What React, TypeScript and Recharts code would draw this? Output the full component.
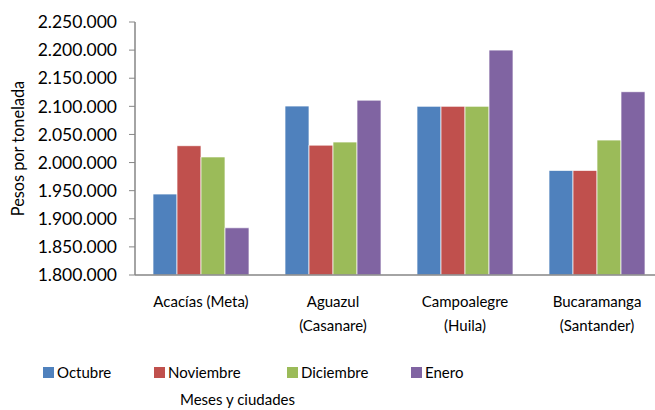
import React from "react";
import { BarChart, Bar, XAxis, YAxis } from "recharts";

const cities = ["Acacías (Meta)", "Aguazul (Casanare)", "Campoalegre (Huila)", "Bucaramanga (Santander)"];
const cityLines = [["Acacías (Meta)"], ["Aguazul", "(Casanare)"], ["Campoalegre", "(Huila)"], ["Bucaramanga", "(Santander)"]];
const octubre = [1944000, 2100500, 2100000, 1986000];
const noviembre = [2030000, 2031000, 2100000, 1986000];
const diciembre = [2010000, 2036500, 2100000, 2040000];
const enero = [1884000, 2111000, 2200000, 2126000];
const months = ["Octubre", "Noviembre", "Diciembre", "Enero"];
const colors = ["#4F81BD", "#C0504D", "#9BBB59", "#8064A2"];
const yTicks = [1800000, 1850000, 1900000, 1950000, 2000000, 2050000, 2100000, 2150000, 2200000, 2250000];

const data = cities.map((c, i) => ({
  city: c,
  Octubre: octubre[i],
  Noviembre: noviembre[i],
  Diciembre: diciembre[i],
  Enero: enero[i],
}));

const font = "Lato, sans-serif";

// 2250000 -> "2.250.000"
const fmt = (v: number) => String(v).replace(/\B(?=(\d{3})+(?!\d))/g, ".");

function CityTick(props: any) {
  const { x, y, payload } = props;
  const lines = cityLines[payload.index] || [payload.value];
  return (
    <text x={x} y={y} textAnchor="middle" fill="#000" fontSize={15} fontFamily={font}>
      {lines.map((l, i) => (
        <tspan key={i} x={x} dy={24}>
          {l}
        </tspan>
      ))}
    </text>
  );
}

function LegendBox() {
  const lefts = [43, 154, 287, 411];
  return (
    <div style={{ position: "absolute", left: 0, top: 362, width: 655, height: 48, fontFamily: font, fontSize: 15 }}>
      {months.map((m, i) => (
        <div key={m} style={{ position: "absolute", left: lefts[i], top: 0, display: "flex", alignItems: "center", height: 20 }}>
          <span style={{ width: 11, height: 11, background: colors[i], display: "inline-block", marginRight: 3 }} />
          <span>{m}</span>
        </div>
      ))}
      <div style={{ position: "absolute", left: 180, top: 28, lineHeight: "18px", whiteSpace: "nowrap" }}>Meses y ciudades</div>
    </div>
  );
}

export default function App() {
  return (
    <div style={{ position: "absolute", left: 0, top: 0, width: 655, height: 410, background: "#fff", overflow: "hidden" }}>
      <BarChart
        width={663}
        height={410}
        data={data}
        margin={{ top: 22, right: 0, bottom: 0, left: 0 }}
        barCategoryGap={18}
        barGap={0}
      >
        <XAxis
          dataKey="city"
          tick={<CityTick />}
          tickLine={false}
          axisLine={{ stroke: "#868686", strokeWidth: 1.5 }}
          interval={0}
          height={135}
        />
        <YAxis
          domain={[1800000, 2250000]}
          ticks={yTicks}
          tickFormatter={fmt}
          width={135}
          tick={{ fill: "#000", fontSize: 17.5, fontFamily: font }}
          tickLine={{ stroke: "#868686" }}
          tickSize={6}
          tickMargin={12}
          axisLine={{ stroke: "#868686", strokeWidth: 1.5 }}
          allowDataOverflow
          label={{ value: "Pesos por tonelada", angle: -90, position: "insideLeft", offset: 18, style: { fontFamily: font, fontSize: 16.3, fill: "#000", textAnchor: "middle" } }}
        />
        {months.map((m, i) => (
          <Bar key={m} dataKey={m} fill={colors[i]} stroke="#fff" strokeWidth={0.7} isAnimationActive={false} />
        ))}
      </BarChart>
      <LegendBox />
    </div>
  );
}
